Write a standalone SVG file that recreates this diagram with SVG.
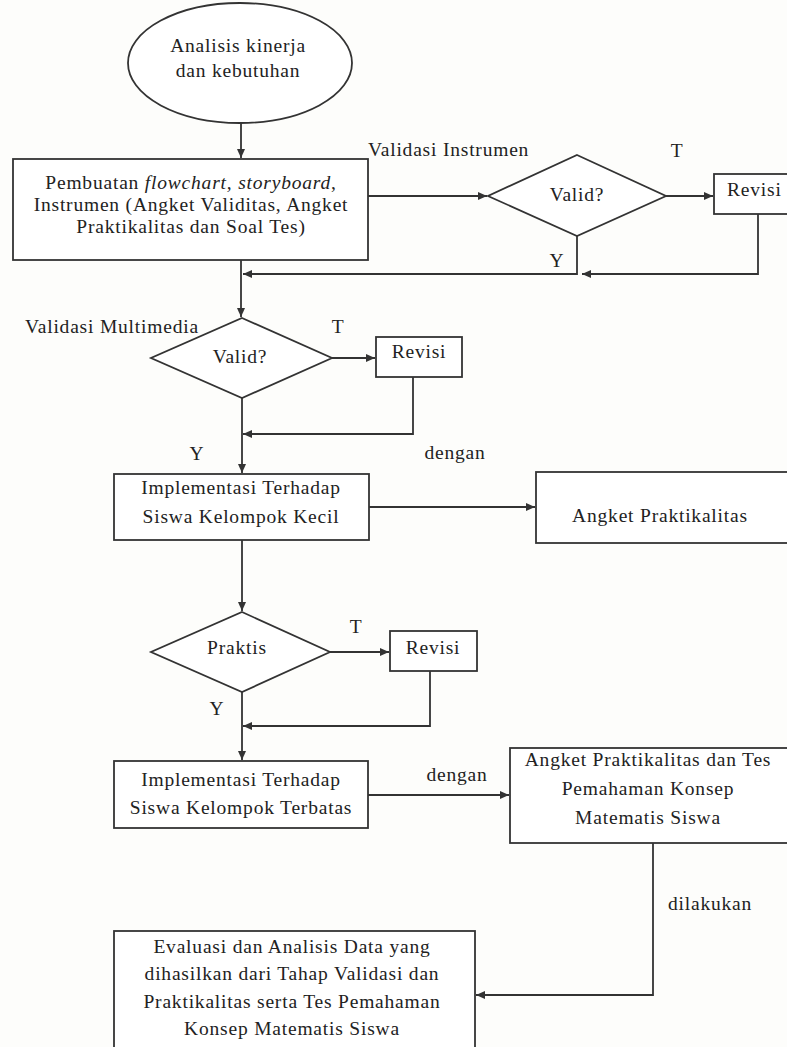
<svg xmlns="http://www.w3.org/2000/svg" width="787" height="1047" viewBox="0 0 787 1047">
<defs>
<style>
.n{fill:#ffffff;stroke:#333;stroke-width:1.8}
.c{fill:none;stroke:#333;stroke-width:1.8}
text{font-family:"Liberation Serif","Times New Roman",serif;font-size:19.5px;letter-spacing:0.8px;fill:#222}
.m{text-anchor:middle}
</style>
<marker id="ah" markerUnits="userSpaceOnUse" markerWidth="10" markerHeight="8" refX="9" refY="4" orient="auto">
<path d="M0,0 L9,4 L0,8 z" fill="#333"/>
</marker>
</defs>
<rect width="787" height="1047" fill="#fdfdfb"/>
<g id="connectors">
<path class="c" d="M241,123 V158" marker-end="url(#ah)"/>
<path class="c" d="M368,196 H487" marker-end="url(#ah)"/>
<path class="c" d="M666,196 H713" marker-end="url(#ah)"/>
<path class="c" d="M758,214 V274 H582" marker-end="url(#ah)"/>
<path class="c" d="M577,236 V274 H243" marker-end="url(#ah)"/>
<path class="c" d="M241,260 V317" marker-end="url(#ah)"/>
<path class="c" d="M332,358 H375" marker-end="url(#ah)"/>
<path class="c" d="M413,377 V434 H243" marker-end="url(#ah)"/>
<path class="c" d="M242,398 V473" marker-end="url(#ah)"/>
<path class="c" d="M369,507 H535" marker-end="url(#ah)"/>
<path class="c" d="M242,540 V611" marker-end="url(#ah)"/>
<path class="c" d="M330,652 H389" marker-end="url(#ah)"/>
<path class="c" d="M430,671 V726 H243" marker-end="url(#ah)"/>
<path class="c" d="M242,692 V760" marker-end="url(#ah)"/>
<path class="c" d="M368,795 H509" marker-end="url(#ah)"/>
<path class="c" d="M653,843 V995 H476" marker-end="url(#ah)"/>
</g>
<g id="labels">
<text x="368" y="156">Validasi Instrumen</text>
<text class="m" x="677" y="157">T</text>
<text class="m" x="557" y="267">Y</text>
<text x="25" y="333">Validasi Multimedia</text>
<text class="m" x="338" y="333">T</text>
<text class="m" x="197" y="460">Y</text>
<text class="m" x="455" y="459">dengan</text>
<text class="m" x="356" y="633">T</text>
<text class="m" x="217" y="715">Y</text>
<text class="m" x="457" y="781">dengan</text>
<text class="m" x="710" y="910">dilakukan</text>
</g>
<g id="start">
<ellipse class="n" cx="240" cy="63" rx="112" ry="60"/>
<text class="m" x="238" y="52">Analisis kinerja</text>
<text class="m" x="238" y="77">dan kebutuhan</text>
</g>
<g id="pembuatan">
<rect class="n" x="13" y="159" width="355" height="101"/>
<text class="m" x="191" y="189">Pembuatan <tspan font-style="italic">flowchart, storyboard</tspan>,</text>
<text class="m" x="191" y="211">Instrumen (Angket Validitas, Angket</text>
<text class="m" x="191" y="233">Praktikalitas dan Soal Tes)</text>
</g>
<g id="valid1">
<polygon class="n" points="577,155 666,196 577,236 488,196"/>
<text class="m" x="577" y="201">Valid?</text>
</g>
<g id="revisi1">
<rect class="n" x="714" y="174" width="80" height="40"/>
<text x="727" y="196">Revisi</text>
</g>
<g id="valid2">
<polygon class="n" points="242,318 332,358 242,398 151,358"/>
<text class="m" x="240" y="363">Valid?</text>
</g>
<g id="revisi2">
<rect class="n" x="376" y="337" width="86" height="40"/>
<text class="m" x="419" y="358">Revisi</text>
</g>
<g id="implementasi1">
<rect class="n" x="114" y="474" width="255" height="66"/>
<text class="m" x="241" y="494">Implementasi Terhadap</text>
<text class="m" x="241" y="523">Siswa Kelompok Kecil</text>
</g>
<g id="angket1">
<rect class="n" x="536" y="472" width="260" height="71"/>
<text class="m" x="660" y="522">Angket Praktikalitas</text>
</g>
<g id="praktis">
<polygon class="n" points="242,612 330,652 242,692 151,652"/>
<text class="m" x="237" y="654">Praktis</text>
</g>
<g id="revisi3">
<rect class="n" x="390" y="631" width="87" height="40"/>
<text class="m" x="433" y="654">Revisi</text>
</g>
<g id="implementasi2">
<rect class="n" x="114" y="761" width="254" height="67"/>
<text class="m" x="241" y="786">Implementasi Terhadap</text>
<text class="m" x="241" y="814">Siswa Kelompok Terbatas</text>
</g>
<g id="angket2">
<rect class="n" x="510" y="748" width="286" height="95"/>
<text class="m" x="648" y="766">Angket Praktikalitas dan Tes</text>
<text class="m" x="648" y="795">Pemahaman Konsep</text>
<text class="m" x="648" y="824">Matematis Siswa</text>
</g>
<g id="evaluasi">
<rect class="n" x="114" y="931" width="361" height="130"/>
<text class="m" x="292" y="953">Evaluasi dan Analisis Data yang</text>
<text class="m" x="292" y="980">dihasilkan dari Tahap Validasi dan</text>
<text class="m" x="292" y="1008">Praktikalitas serta Tes Pemahaman</text>
<text class="m" x="292" y="1035">Konsep Matematis Siswa</text>
</g>
</svg>
